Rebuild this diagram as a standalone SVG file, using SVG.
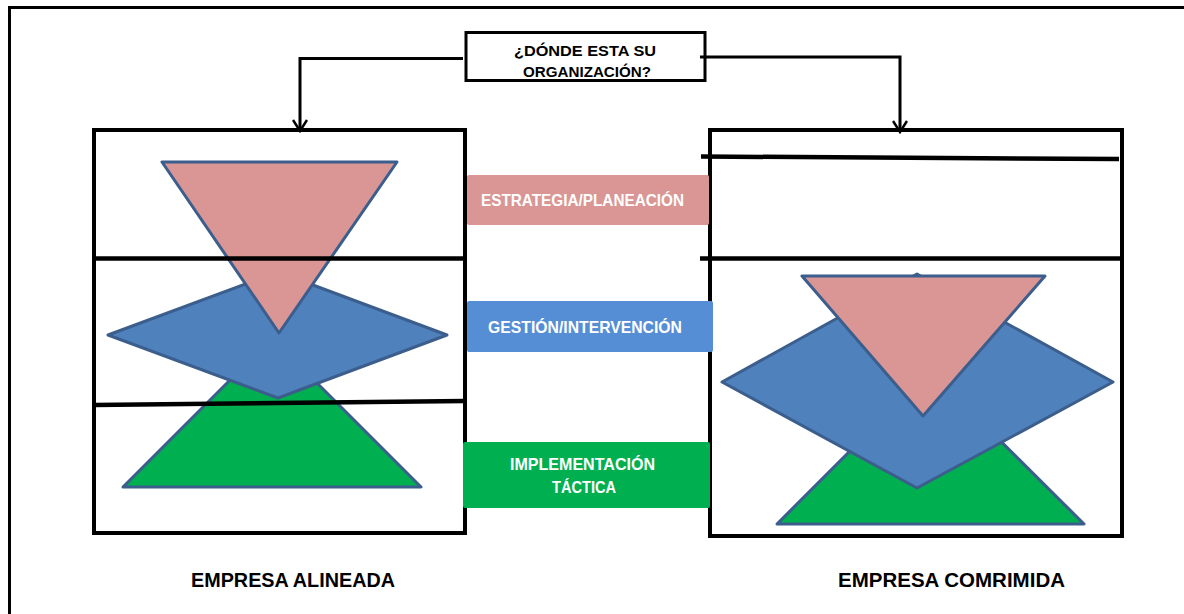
<svg xmlns="http://www.w3.org/2000/svg" width="1184" height="614" viewBox="0 0 1184 614">
  <style>
    .frame { fill: none; stroke: #000; stroke-width: 4; }
    .rule { stroke: #000; stroke-width: 4.5; stroke-linecap: butt; }
    .shape { stroke: #3b5e8d; stroke-width: 3; stroke-linejoin: round; }
    .pink { fill: #d99694; }
    .blue { fill: #4f81bd; }
    .green { fill: #00b050; }
    .wire { fill: none; stroke: #000; stroke-width: 3; }
    .lbl { font-family: "Liberation Sans", Arial, sans-serif; font-weight: bold; fill: #fff; font-size: 16.5px; text-anchor: middle; }
    .q { font-family: "Liberation Sans", Arial, sans-serif; font-weight: bold; fill: #000; font-size: 15px; text-anchor: middle; }
    .cap { font-family: "Liberation Sans", Arial, sans-serif; font-weight: bold; fill: #000; font-size: 19.5px; text-anchor: middle; }
  </style>
  <defs>
    <!-- open V arrowhead pointing along the path direction -->
    <marker id="vhead" viewBox="0 0 14 16" refX="12" refY="8" markerWidth="14" markerHeight="16" markerUnits="userSpaceOnUse" orient="auto">
      <path d="M1,1 L12,8 L1,15" fill="none" stroke="#000" stroke-width="2.5"/>
    </marker>
  </defs>

  <rect width="1184" height="614" fill="#fff"/>

  <!-- page frame: top and left edges only -->
  <path d="M9.5,614 V7.5 H1184" fill="none" stroke="#000" stroke-width="3"/>

  <!-- question node -->
  <g id="question">
    <rect x="466" y="32.5" width="239" height="48" fill="#fff" stroke="#000" stroke-width="3"/>
    <text class="q" x="585" y="56" textLength="142" lengthAdjust="spacingAndGlyphs">¿DÓNDE ESTA SU</text>
    <text class="q" x="587" y="77" textLength="128" lengthAdjust="spacingAndGlyphs">ORGANIZACIÓN?</text>
  </g>

  <!-- aligned company panel -->
  <g id="aligned">
    <polygon class="shape green" points="272,338 421,487 123,487"/>
    <polygon class="shape blue" points="278,272 447,335 278,398 108,335"/>
    <polygon class="shape pink" points="162,162 397,162 279,333"/>
    <rect class="frame" x="94" y="130" width="371" height="403"/>
    <line class="rule" x1="94" y1="258.5" x2="465" y2="258.5"/>
    <line class="rule" x1="94" y1="405" x2="465" y2="401"/>
  </g>

  <!-- compressed company panel -->
  <g id="compressed">
    <polygon class="shape green" points="930,371 1084,524 777,524"/>
    <polygon class="shape blue" points="917,274 1113,382 917,488 722,382"/>
    <polygon class="shape pink" points="802,276 1045,276 923,416"/>
    <rect class="frame" x="710" y="130" width="412" height="406"/>
    <line class="rule" x1="701" y1="156.5" x2="1119" y2="159"/>
    <line class="rule" x1="700" y1="258.5" x2="1124" y2="258.5"/>
  </g>

  <!-- level labels -->
  <g id="strategy">
    <rect x="467" y="175" width="242" height="50" rx="2" class="pink"/>
    <text class="lbl" x="582.5" y="206" textLength="203" lengthAdjust="spacingAndGlyphs">ESTRATEGIA/PLANEACIÓN</text>
  </g>
  <g id="management">
    <rect x="467" y="301" width="246" height="51" rx="2" fill="#558ed5"/>
    <text class="lbl" x="585" y="333" textLength="194" lengthAdjust="spacingAndGlyphs">GESTIÓN/INTERVENCIÓN</text>
  </g>
  <g id="tactical">
    <rect x="463" y="442" width="247" height="66" rx="2" class="green"/>
    <text class="lbl" x="582.5" y="470" textLength="145" lengthAdjust="spacingAndGlyphs">IMPLEMENTACIÓN</text>
    <text class="lbl" x="584" y="493" textLength="64" lengthAdjust="spacingAndGlyphs">TÁCTICA</text>
  </g>

  <!-- captions -->
  <g id="caption-aligned">
    <text class="cap" x="293" y="587" textLength="204" lengthAdjust="spacingAndGlyphs">EMPRESA ALINEADA</text>
  </g>
  <g id="caption-compressed">
    <text class="cap" x="951.5" y="587" textLength="227" lengthAdjust="spacingAndGlyphs">EMPRESA COMRIMIDA</text>
  </g>

  <!-- connectors -->
  <g id="connectors">
    <path class="wire" d="M463,58.5 H300 V131" marker-end="url(#vhead)"/>
    <path class="wire" d="M700,57 H900 V132" marker-end="url(#vhead)"/>
  </g>
</svg>
